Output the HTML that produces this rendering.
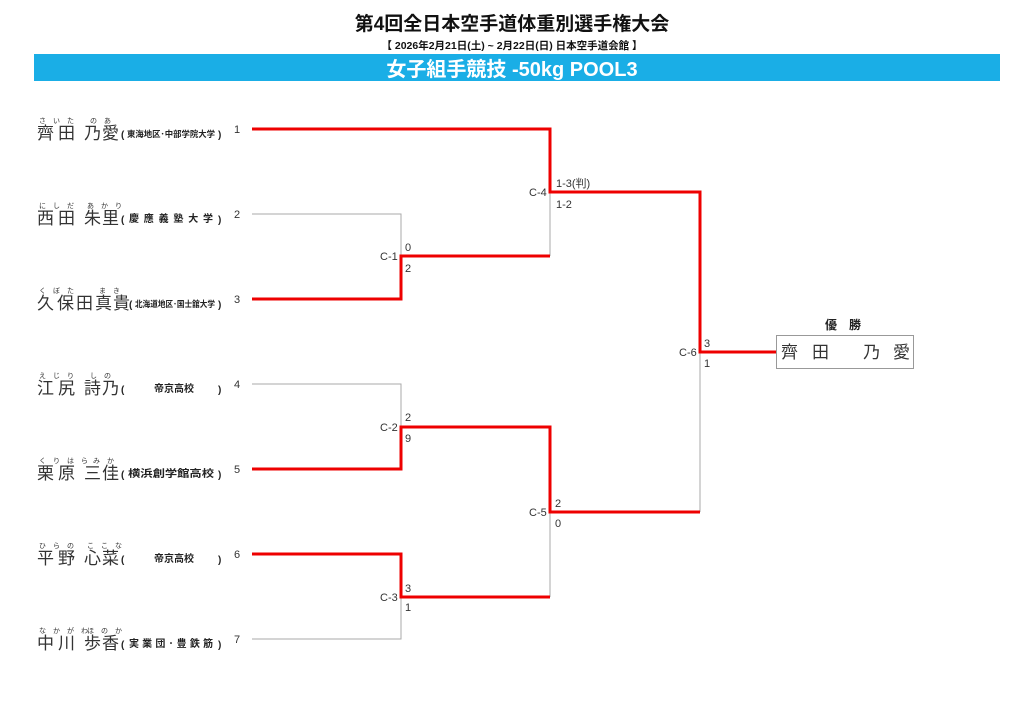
<!DOCTYPE html>
<html><head><meta charset="utf-8"><style>
html,body{margin:0;padding:0;background:#fff;width:1024px;height:724px;overflow:hidden}
svg{display:block}
.n{font-family:"Liberation Sans","Noto Sans CJK JP",sans-serif;font-size:17px;fill:#333}
.f{font-family:"Liberation Sans","Noto Sans CJK JP",sans-serif;font-size:7px;fill:#333}
.a{font-family:"Liberation Sans","Noto Sans CJK JP",sans-serif;font-size:10px;fill:#222;font-weight:bold}
.s{font-family:"Liberation Sans","Noto Sans CJK JP",sans-serif;font-size:11px;fill:#333}
</style></head><body>
<svg width="1024" height="724" viewBox="0 0 1024 724" xmlns="http://www.w3.org/2000/svg">
<text x="512" y="30" text-anchor="middle" font-family="Liberation Sans,Noto Sans CJK JP,sans-serif" font-size="19" font-weight="bold" fill="#111">第4回全日本空手道体重別選手権大会</text>
<text x="512" y="49" text-anchor="middle" font-family="Liberation Sans,Noto Sans CJK JP,sans-serif" font-size="10.5" font-weight="bold" fill="#111">【 2026年2月21日(土) ~ 2月22日(日)  日本空手道会館 】</text>
<rect x="34" y="54" width="966" height="27" fill="#1aaee6"/>
<text x="512" y="76" text-anchor="middle" font-family="Liberation Sans,Noto Sans CJK JP,sans-serif" font-size="20" font-weight="bold" fill="#fff">女子組手競技 -50kg POOL3</text>

<g class="n">
<text x="37" y="139">齊</text><text x="58" y="139">田</text><text x="84" y="139">乃</text><text x="102" y="139">愛</text>
<text x="37" y="224">西</text><text x="58" y="224">田</text><text x="84" y="224">朱</text><text x="102" y="224">里</text>
<text x="37" y="309">久</text><text x="57" y="309">保</text><text x="76" y="309">田</text><text x="95" y="309">真</text><text x="113" y="309">貴</text>
<text x="37" y="394">江</text><text x="58" y="394">尻</text><text x="84" y="394">詩</text><text x="102" y="394">乃</text>
<text x="37" y="479">栗</text><text x="58" y="479">原</text><text x="84" y="479">三</text><text x="102" y="479">佳</text>
<text x="37" y="564">平</text><text x="58" y="564">野</text><text x="84" y="564">心</text><text x="102" y="564">菜</text>
<text x="37" y="649">中</text><text x="58" y="649">川</text><text x="84" y="649">歩</text><text x="102" y="649">香</text>
</g>
<g class="f">
<text x="39" y="123">さ　い　た</text><text x="90" y="123">の　あ</text>
<text x="39" y="208">に　し　だ</text><text x="87" y="208">あ　か　り</text>
<text x="39" y="293">く　ぼ　た</text><text x="99" y="293">ま　き</text>
<text x="39" y="378">え　じ　り</text><text x="90" y="378">し　の</text>
<text x="39" y="463">く　り　は　ら</text><text x="93" y="463">み　か</text>
<text x="39" y="548">ひ　ら　の</text><text x="87" y="548">こ　こ　な</text>
<text x="39" y="633">な　か　が　わ</text><text x="87" y="633">ほ　の　か</text>
</g>
<g class="a">
<text x="121" y="138">(</text><text x="218" y="138">)</text>
<text x="127" y="137" font-size="8.5" textLength="88" lengthAdjust="spacingAndGlyphs">東海地区･中部学院大学</text>
<text x="121" y="223">(</text><text x="218" y="223">)</text>
<text x="129" y="222" textLength="84" lengthAdjust="spacing">慶應義塾大学</text>
<text x="129" y="308">(</text><text x="218" y="308">)</text>
<text x="135" y="307" font-size="8.5" textLength="80" lengthAdjust="spacingAndGlyphs">北海道地区･国士舘大学</text>
<text x="121" y="393">(</text><text x="218" y="393">)</text>
<text x="154" y="392">帝京高校</text>
<text x="121" y="478">(</text><text x="218" y="478">)</text>
<text x="128" y="477" textLength="86" lengthAdjust="spacingAndGlyphs">横浜創学館高校</text>
<text x="121" y="563">(</text><text x="218" y="563">)</text>
<text x="154" y="562">帝京高校</text>
<text x="121" y="648">(</text><text x="218" y="648">)</text>
<text x="129" y="647" textLength="84" lengthAdjust="spacing">実業団･豊鉄筋</text>
</g>
<g class="s" font-size="9">
<text x="234" y="133">1</text><text x="234" y="218">2</text><text x="234" y="303">3</text><text x="234" y="388">4</text><text x="234" y="473">5</text><text x="234" y="558">6</text><text x="234" y="643">7</text>
</g>

<g stroke="#aaa" stroke-width="1" fill="none">
<path d="M252 214H401V299"/>
<path d="M550 129V256"/>
<path d="M252 384H401V469"/>
<path d="M252 639H401V597"/>
<path d="M550 597V427"/>
<path d="M700 352V512"/>
</g>
<g stroke="#e00" stroke-width="3" fill="none">
<path d="M252 299H401V256H550"/>
<path d="M252 129H550V192H700V352H776"/>
<path d="M252 469H401V427H550V512H700"/>
<path d="M252 554H401V597H550"/>
</g>

<g class="s">
<text x="380" y="260">C-1</text><text x="405" y="251">0</text><text x="405" y="272">2</text>
<text x="529" y="196">C-4</text><text x="556" y="187">1-3(判)</text><text x="556" y="208">1-2</text>
<text x="380" y="431">C-2</text><text x="405" y="421">2</text><text x="405" y="442">9</text>
<text x="380" y="601">C-3</text><text x="405" y="592">3</text><text x="405" y="611">1</text>
<text x="529" y="516">C-5</text><text x="555" y="507">2</text><text x="555" y="527">0</text>
<text x="679" y="356">C-6</text><text x="704" y="347">3</text><text x="704" y="367">1</text>
</g>

<text x="843" y="329" text-anchor="middle" font-family="Liberation Sans,Noto Sans CJK JP,sans-serif" font-size="12" font-weight="bold" fill="#222">優　勝</text>
<rect x="776.5" y="335.5" width="137" height="33" fill="#fff" stroke="#999" stroke-width="1"/>
<g class="n" font-size="14">
<text x="781" y="358">齊</text><text x="812" y="358">田</text><text x="863" y="358">乃</text><text x="893" y="358">愛</text>
</g>
</svg>
</body></html>
